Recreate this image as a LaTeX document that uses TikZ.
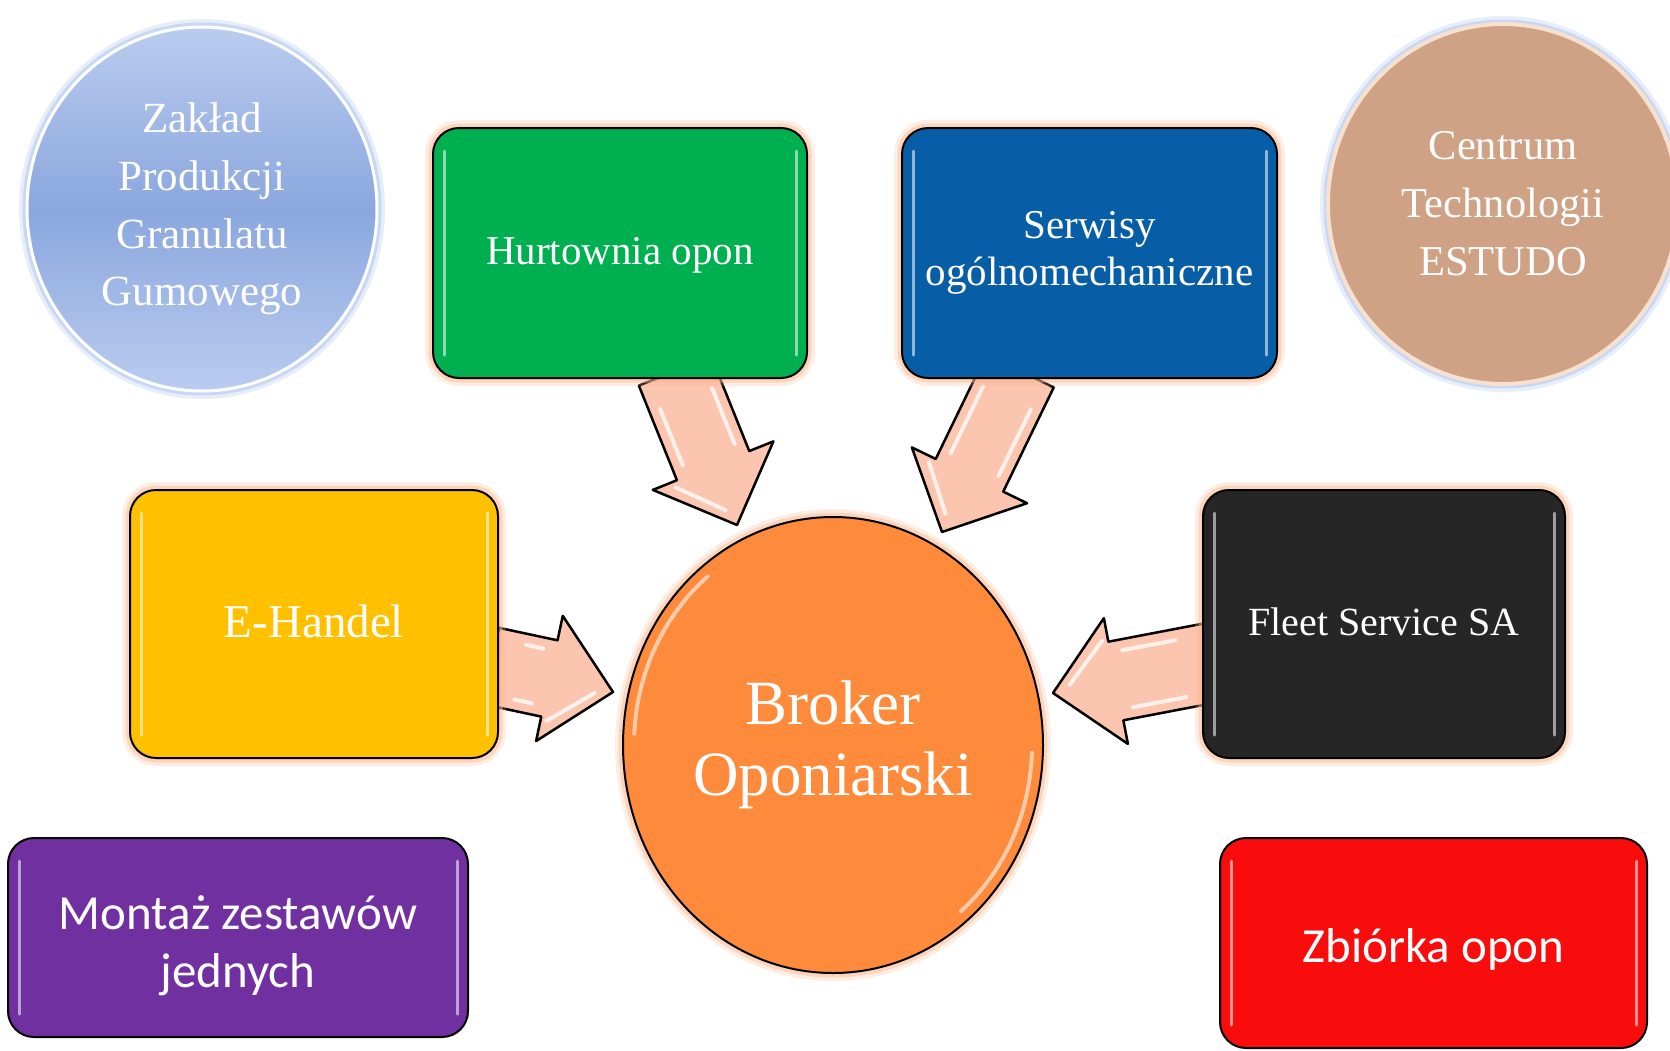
\documentclass[tikz,border=0pt]{standalone}
\usepackage{fontspec}
\setmainfont{Liberation Serif}
\newfontfamily\calfont{Carlito}
\usetikzlibrary{calc,shapes.geometric}
\definecolor{cGreen}{HTML}{00AF50}
\definecolor{cBlue}{HTML}{085EA6}
\definecolor{cYellow}{HTML}{FFC000}
\definecolor{cBlack}{HTML}{262626}
\definecolor{cPurple}{HTML}{7030A0}
\definecolor{cRed}{HTML}{F90C0C}
\definecolor{cOrange}{HTML}{FE8A3C}
\definecolor{cTan}{HTML}{CFA185}
\definecolor{cTanRim}{HTML}{F6E0CE}
\definecolor{cBlueTop}{HTML}{BACCEF}
\definecolor{cBlueMid}{HTML}{8BA7DE}
\definecolor{cPink}{HTML}{FCC5AF}
\definecolor{cGlow}{HTML}{FCB88E}
\definecolor{cSky}{HTML}{A3BDEE}
\pgfdeclarelayer{back}
\pgfdeclarelayer{arrows}
\pgfsetlayers{back,arrows,main}
\tikzset{
  glow/.style={preaction={draw=#1, line width=16pt, opacity=0.25},
               preaction={draw=#1, line width=9pt, opacity=0.45}},
  boxshape/.style={rectangle, rounded corners=26pt, draw=black, line width=2pt,
    text=white, inner sep=0pt},
  serif41/.style={font=\fontsize{41}{47}\selectfont},
  calib/.style={font=\calfont\fontsize{49}{58}\selectfont},
  circ/.style={ellipse, inner sep=0pt, text=white, align=center},
  hl/.style={white, opacity=0.55, line width=3pt, line cap=round},
  arrowbody/.style={fill=cPink, draw=black, line width=2.5pt, line join=round},
  arrowshine/.style={white, opacity=0.75, line width=4pt, line cap=round},
  hubshine/.style={white, opacity=0.55, line width=4pt, line cap=round}
}
% #1 tail coordinate, #2 tip coordinate, #3 shaft half width, #4 head half width, #5 head length
\newcommand{\blockarrow}[5]{%
  \pgfmathsetmacro\baNeckIn{#5+12}%
  \pgfmathsetmacro\baWin{#3-11}%
  \pgfmathsetmacro\baBarb{#5-6}%
  \pgfmathsetmacro\baHin{#4-22}%
  \draw[arrowbody] ($(#1)!#3pt!90:(#2)$) -- ($(#2)!#5pt!(#1)!#3pt!90:(#2)$)
    -- ($(#2)!#5pt!(#1)!#4pt!90:(#2)$) -- (#2)
    -- ($(#2)!#5pt!(#1)!#4pt!-90:(#2)$) -- ($(#2)!#5pt!(#1)!#3pt!-90:(#2)$)
    -- ($(#1)!#3pt!-90:(#2)$) -- cycle;
  \draw[arrowshine] ($(#1)!30pt!(#2)!\baWin pt!90:(#2)$) -- ($(#2)!\baNeckIn pt!(#1)!\baWin pt!90:(#2)$);
  \draw[arrowshine] ($(#1)!30pt!(#2)!\baWin pt!-90:(#2)$) -- ($(#2)!\baNeckIn pt!(#1)!\baWin pt!-90:(#2)$);
  \draw[arrowshine] ($(#2)!\baBarb pt!(#1)!\baHin pt!-90:(#2)$) -- ($(#2)!18pt!(#1)!5pt!-90:(#2)$);
}
\begin{document}
\begin{tikzpicture}[x=1pt,y=-1pt]
\begin{pgfonlayer}{back}
  \fill[white] (0,0) rectangle (1670,1050);
\end{pgfonlayer}
\useasboundingbox (0,0) rectangle (1670,1050);

% ---- circles ----
\node[circ, glow=cSky, top color=cBlueTop, bottom color=cBlueTop, middle color=cBlueMid,
      draw=white, line width=3pt, minimum width=350pt, minimum height=364pt,
      font=\fontsize{43}{57.7}\selectfont] (zaklad) at (202,209)
      {Zakład\\Produkcji\\Granulatu\\Gumowego};
\node[circ, glow=cSky, fill=cTan, draw=cTanRim, line width=4pt,
      minimum width=350pt, minimum height=360pt,
      font=\fontsize{42.5}{58}\selectfont] (estudo) at (1503,204)
      {Centrum\\Technologii\\ESTUDO};
\node[circ, glow=cGlow, fill=cOrange, draw=black, line width=2pt,
      minimum width=420pt, minimum height=456pt,
      font=\fontsize{63}{71}\selectfont] (broker) at (833,745)
      {Broker\\Oponiarski};
\draw[hubshine] ($(broker.center)+(-129:199 and 217)$) arc[start angle=-129, end angle=-177, x radius=199, y radius=217];
\draw[hubshine] ($(broker.center)+(2:199 and 217)$) arc[start angle=2, end angle=50, x radius=199, y radius=217];

% ---- boxes ----
\node[boxshape, fill=cGreen, glow=cGlow, minimum width=374pt, minimum height=250pt,
      serif41, text height=30pt, text depth=8pt] (hurt) at (620,253) {Hurtownia opon};
\node[boxshape, fill=cBlue, glow=cGlow, minimum width=375pt, minimum height=250pt,
      serif41, align=center] (serw) at (1089.5,253) {Serwisy\\ogólnomechaniczne};
\node[boxshape, fill=cYellow, glow=cGlow, minimum width=368pt, minimum height=268pt,
      font=\fontsize{47}{52}\selectfont, text height=33pt, text depth=6pt] (ehandel) at (314,624) {E-Handel};
\node[boxshape, fill=cBlack, glow=cGlow, minimum width=362pt, minimum height=268pt,
      font=\fontsize{40}{47}\selectfont, text height=30pt, text depth=8pt] (fleet) at (1384,624) {Fleet Service SA};
\node[boxshape, fill=cPurple, minimum width=460pt, minimum height=199pt] (montaz) at (238,937.5) {};
\node[calib, text=white, align=center, inner sep=0pt] (montazT) at ([yshift=-8pt]montaz.center) {Montaż zestawów\\jednych};
\node[boxshape, fill=cRed, minimum width=427pt, minimum height=210pt,
      calib, text height=41pt, text depth=2pt] (zbiorka) at (1433.5,943) {Zbiórka opon};

\foreach \n in {hurt,serw,ehandel,fleet,montaz,zbiorka}{
  \draw[hl] ([xshift=12pt,yshift=-24pt]\n.north west) -- ([xshift=12pt,yshift=24pt]\n.south west);
  \draw[hl] ([xshift=-12pt,yshift=-24pt]\n.north east) -- ([xshift=-12pt,yshift=24pt]\n.south east);
}

% ---- arrow ends ----
\coordinate (t1) at ([xshift=55pt,yshift=8pt]hurt.south);
\coordinate (e1) at (737,525);
\coordinate (t2) at ([xshift=-69.5pt,yshift=8pt]serw.south);
\coordinate (e2) at (942,532);
\coordinate (t3) at ([xshift=-8pt,yshift=-42pt]ehandel.east);
\coordinate (e3) at (613,692);
\coordinate (t4) at ([xshift=8pt,yshift=-39pt]fleet.west);
\coordinate (e4) at (1053,693);

\begin{pgfonlayer}{arrows}
  \blockarrow{t1}{e1}{39}{65}{64}
  \blockarrow{t2}{e2}{37.5}{64}{63}
  \blockarrow{t3}{e3}{39}{64}{65}
  \blockarrow{t4}{e4}{40}{64}{64}
\end{pgfonlayer}
\end{tikzpicture}
\end{document}
